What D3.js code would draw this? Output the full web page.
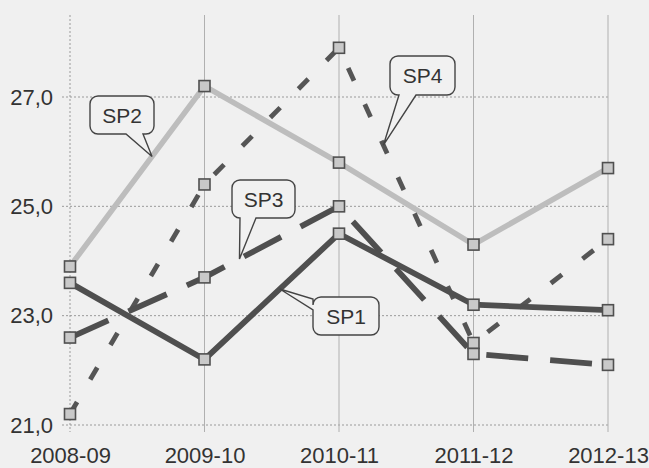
<!DOCTYPE html>
<html><head><meta charset="utf-8">
<script src="https://cdn.jsdelivr.net/npm/d3@7"></script>
<style>
html,body{margin:0;padding:0;background:#f0f0f0;}
svg{display:block;}
text{font-family:"Liberation Sans",Arial,sans-serif;fill:#333;}
</style></head><body>
<svg id="c" width="649" height="468"></svg>
<script>
const categories = ["2008-09","2009-10","2010-11","2011-12","2012-13"];
const sp1 = [23.6, 22.2, 24.5, 23.2, 23.1];
const sp2 = [23.9, 27.2, 25.8, 24.3, 25.7];
const sp3 = [22.6, 23.7, 25.0, 22.3, 22.1];
const sp4 = [21.2, 25.4, 27.9, 22.5, 24.4];
const yTicks = [21, 23, 25, 27];
const seriesNames = ["SP1","SP2","SP3","SP4"];

const svg = d3.select("#c");
const x = d3.scalePoint().domain(categories).range([70, 608]);
const y = d3.scaleLinear().domain([21, 27]).range([425, 97]);

const g = svg.append("g");
g.selectAll("line.h").data(yTicks).join("line")
  .attr("x1", 62).attr("x2", 610)
  .attr("y1", d => y(d)).attr("y2", d => y(d))
  .attr("stroke", "#9a9a9a").attr("stroke-width", 1).attr("stroke-dasharray", "2,2");
g.selectAll("line.v").data(categories).join("line")
  .attr("x1", d => x(d)).attr("x2", d => x(d))
  .attr("y1", 15).attr("y2", 432)
  .attr("stroke", (d,i) => i === 0 ? "#9a9a9a" : "#b0b0b0")
  .attr("stroke-width", 1)
  .attr("stroke-dasharray", (d,i) => i === 0 ? "2,2" : null);

const yAxis = d3.axisLeft(y).tickValues(yTicks).tickSize(0).tickPadding(0)
  .tickFormat(d => d3.format(".1f")(d).replace(".", ","));
const ya = svg.append("g").attr("transform", "translate(53,0)").call(yAxis);
ya.select(".domain").remove();
ya.selectAll("text").attr("font-size", 22).attr("fill", "#333")
  .attr("font-family", "Liberation Sans, Arial, sans-serif");

const xAxis = d3.axisBottom(x).tickSize(0).tickPadding(0);
const xa = svg.append("g").attr("transform", "translate(0,447)").call(xAxis);
xa.select(".domain").remove();
xa.selectAll("text").attr("font-size", 22).attr("fill", "#333")
  .attr("font-family", "Liberation Sans, Arial, sans-serif");

const line = d3.line().x((d,i) => x(categories[i])).y(d => y(d));

const styles = {
  SP2: {data: sp2, color: "#bdbdbd", width: 5.5, dash: null},
  SP4: {data: sp4, color: "#555555", width: 4.8, dash: "14,26"},
  SP3: {data: sp3, color: "#4f4f4f", width: 5.8, dash: "42,22"},
  SP1: {data: sp1, color: "#4f4f4f", width: 5.8, dash: null}
};
["SP2","SP4","SP3","SP1"].forEach(k => {
  const s = styles[k];
  svg.append("path").datum(s.data).attr("d", line)
    .attr("fill", "none").attr("stroke", s.color)
    .attr("stroke-width", s.width).attr("stroke-dasharray", s.dash)
    .attr("stroke-linejoin", "miter");
});
["SP2","SP4","SP3","SP1"].forEach(k => {
  const s = styles[k];
  svg.append("g").selectAll("rect").data(s.data).join("rect")
    .attr("x", (d,i) => x(categories[i]) - 5.5)
    .attr("y", d => y(d) - 5.5)
    .attr("width", 11).attr("height", 11)
    .attr("fill", "#c9c9c9").attr("stroke", "#505050").attr("stroke-width", 1.6);
});

function tipOn(data, i, t) {
  const x0 = x(categories[i]), x1 = x(categories[i+1]);
  const y0 = y(data[i]), y1 = y(data[i+1]);
  return [x0 + (x1 - x0) * t, y0 + (y1 - y0) * t];
}
function callout(label, tip, box, base) {
  const [bx, by, bw, bh] = box, r = 8;
  const p = d3.path();
  p.moveTo(bx + r, by);
  p.lineTo(bx + bw - r, by);
  p.arcTo(bx + bw, by, bx + bw, by + r, r);
  p.lineTo(bx + bw, by + bh - r);
  p.arcTo(bx + bw, by + bh, bx + bw - r, by + bh, r);
  if (base.side === "bottom") {
    p.lineTo(base.b, by + bh);
    p.lineTo(tip[0], tip[1]);
    p.lineTo(base.a, by + bh);
  }
  p.lineTo(bx + r, by + bh);
  p.arcTo(bx, by + bh, bx, by + bh - r, r);
  if (base.side === "left") {
    p.lineTo(bx, base.b);
    p.lineTo(tip[0], tip[1]);
    p.lineTo(bx, base.a);
  }
  p.lineTo(bx, by + r);
  p.arcTo(bx, by, bx + r, by, r);
  p.closePath();
  svg.append("path").attr("d", p.toString())
    .attr("fill", "#f1f1f1").attr("stroke", "#444").attr("stroke-width", 1.4)
    .attr("stroke-linejoin", "miter");
  svg.append("text").attr("x", bx + bw / 2).attr("y", by + bh / 2 + 7.5)
    .attr("text-anchor", "middle").attr("font-size", 21).attr("fill", "#333").text(label);
}
const t2 = tipOn(sp2, 0, 0.61);
callout("SP2", t2, [90, 96, 64, 38], {side: "bottom", a: 126, b: 143});
const t3 = tipOn(sp3, 1, 0.26);
callout("SP3", t3, [232, 180, 63, 38], {side: "bottom", a: 240, b: 256});
const t4 = tipOn(sp4, 2, 0.33);
callout("SP4", t4, [390, 56, 65, 39], {side: "bottom", a: 399, b: 416});
const t1 = tipOn(sp1, 1, 0.56);
callout("SP1", t1, [313, 297, 66, 38], {side: "left", a: 299, b: 310});
</script>
</body></html>
